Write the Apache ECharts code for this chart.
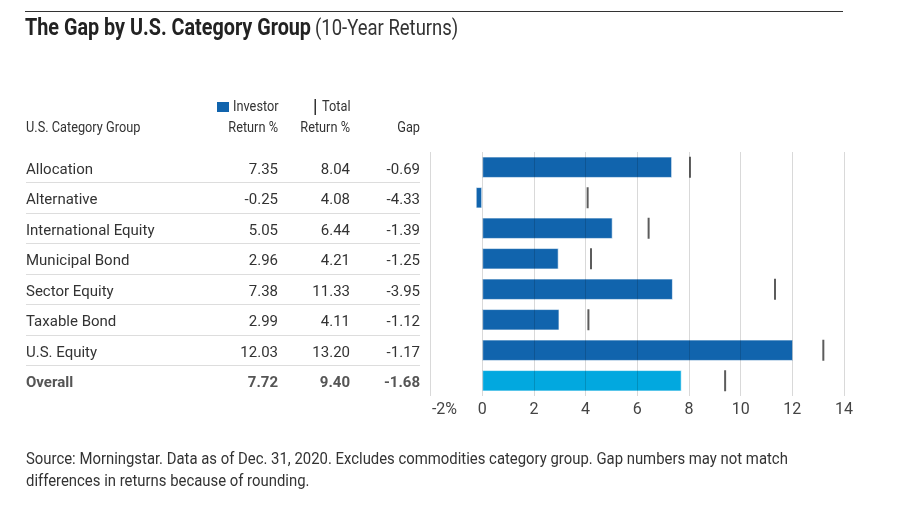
<!DOCTYPE html>
<html>
<head>
<meta charset="utf-8">
<script src="https://cdn.jsdelivr.net/npm/echarts@6/dist/echarts.min.js"></script>
<style>
  html, body { margin: 0; padding: 0; background: #fff; }
  #chart { width: 916px; height: 523px; }
</style>
</head>
<body>
<div id="chart"></div>
<script>
var FONT = '"Roboto", "Liberation Sans", sans-serif';

var categories = ['Allocation', 'Alternative', 'International Equity', 'Municipal Bond',
                  'Sector Equity', 'Taxable Bond', 'U.S. Equity', 'Overall'];
var investorReturn = [7.35, -0.25, 5.05, 2.96, 7.38, 2.99, 12.03, 7.72];
var totalReturn = [8.04, 4.08, 6.44, 4.21, 11.33, 4.11, 13.20, 9.40];
var gapValues = [-0.69, -4.33, -1.39, -1.25, -3.95, -1.12, -1.17, -1.68];
var xTicks = [-2, 0, 2, 4, 6, 8, 10, 12, 14];

var BLUE = '#1164ad';
var LIGHT_BLUE = '#02a8df';

var chart = echarts.init(document.getElementById('chart'));

// table row text, built as rich label of the category axis
function rowLabel(value, index) {
    var b = (value === 'Overall') ? 'B' : '';
    return '{name' + b + '|' + value + '}' +
        '{inv' + b + '|' + investorReturn[index].toFixed(2) + '}' +
        '{tot' + b + '|' + totalReturn[index].toFixed(2) + '}' +
        '{gap' + b + '|' + gapValues[index].toFixed(2) + '}';
}

function cell(width, align, bold) {
    return {
        width: width,
        align: align,
        padding: [5, 0, 0, 0],
        fontFamily: FONT,
        fontSize: 15,
        fontWeight: bold ? 'bold' : 'normal',
        color: bold ? '#555' : '#333'
    };
}

// condensed-looking text: plain text squeezed horizontally around its anchor
function squeezed(x, y, text, size, opts) {
    opts = opts || {};
    return {
        type: 'text',
        x: x,
        y: y,
        scaleX: opts.scale || 0.88,
        style: {
            text: text,
            font: (opts.weight || 'normal') + ' ' + size + 'px ' + FONT,
            fill: opts.color || '#333',
            textAlign: opts.align || 'left',
            textVerticalAlign: 'middle',
            lineHeight: opts.lineHeight
        }
    };
}

var option = {
    backgroundColor: '#fff',
    animation: false,
    textStyle: { fontFamily: FONT },
    grid: [
        { left: 430.5, right: 72, top: 152, height: 244 },
        // grid behind the table, only for the row rules
        { left: 26, width: 394, top: 152, height: 244 }
    ],
    xAxis: [{
        type: 'value',
        gridIndex: 0,
        min: -2,
        max: 14,
        interval: 2,
        z: 3,
        axisLine: { show: false },
        axisTick: { show: false },
        splitLine: { lineStyle: { color: 'rgba(0,0,0,0.15)', width: 1 } },
        axisLabel: {
            margin: 6,
            fontFamily: FONT,
            fontSize: 16,
            color: '#444',
            formatter: function (v) {
                return v === xTicks[0] ? '{first|' + v + '%}' : String(v);
            },
            rich: {
                first: { fontFamily: FONT, fontSize: 16, color: '#444', padding: [0, 0, 0, 28] }
            }
        }
    }, {
        type: 'value',
        gridIndex: 1,
        show: false
    }],
    yAxis: [{
        type: 'category',
        gridIndex: 0,
        data: categories,
        inverse: true,
        axisLine: { show: false },
        axisTick: { show: false },
        splitLine: { show: false },
        axisLabel: {
            margin: 10.5,
            formatter: rowLabel,
            rich: {
                name: cell(190, 'left', false),
                inv: cell(62, 'right', false),
                tot: cell(72, 'right', false),
                gap: cell(70, 'right', false),
                nameB: cell(190, 'left', true),
                invB: cell(62, 'right', true),
                totB: cell(72, 'right', true),
                gapB: cell(70, 'right', true)
            }
        }
    }, {
        type: 'value',
        gridIndex: 1,
        min: 0,
        max: categories.length,
        interval: 1,
        inverse: true,
        axisLine: { show: false },
        axisTick: { show: false },
        axisLabel: { show: false },
        splitLine: {
            show: true,
            showMinLine: false,
            showMaxLine: false,
            lineStyle: {
                color: ['#ddd', '#ddd', '#ddd', '#ddd', '#ddd', '#ddd', '#ddd', '#999', '#ddd'],
                width: 1
            }
        }
    }],
    series: [{
        name: 'Investor Return %',
        type: 'bar',
        xAxisIndex: 0,
        yAxisIndex: 0,
        barWidth: '70%',
        z: 2,
        data: investorReturn.map(function (v, i) {
            return {
                value: v,
                itemStyle: { color: categories[i] === 'Overall' ? LIGHT_BLUE : BLUE }
            };
        }),
        itemStyle: { borderColor: 'rgba(255,255,255,0.6)', borderWidth: 1 }
    }, {
        name: 'Total Return %',
        type: 'scatter',
        xAxisIndex: 0,
        yAxisIndex: 0,
        z: 4,
        symbol: 'rect',
        symbolSize: [2, 21],
        itemStyle: { color: '#333' },
        data: totalReturn.map(function (v, i) { return [v, i]; })
    }],
    graphic: [
        { type: 'line', shape: { x1: 25, y1: 11.5, x2: 843, y2: 11.5 },
          style: { stroke: '#333', lineWidth: 1 } },
        squeezed(25, 29, 'The Gap by U.S. Category Group', 23, { weight: 'bold', color: '#222', scale: 0.86 }),
        squeezed(315, 29, '(10-Year Returns)', 22, { color: '#333', scale: 0.84 }),

        // column headers
        squeezed(26, 128, 'U.S. Category Group', 14.5),
        { type: 'rect', shape: { x: 217, y: 102, width: 12, height: 10 },
          style: { fill: BLUE } },
        squeezed(233, 107, 'Investor', 14.5),
        squeezed(278, 128, 'Return %', 14.5, { align: 'right' }),
        { type: 'rect', shape: { x: 314.5, y: 99, width: 1.5, height: 16 },
          style: { fill: '#333' } },
        squeezed(322, 107, 'Total', 14.5),
        squeezed(350, 128, 'Return %', 14.5, { align: 'right' }),
        squeezed(420, 128, 'Gap', 14.5, { align: 'right' }),

        // source note
        squeezed(26, 471,
            'Source: Morningstar. Data as of Dec. 31, 2020. Excludes commodities category group. Gap numbers may not match\ndifferences in returns because of rounding.',
            16, { scale: 0.93, lineHeight: 22 })
    ]
};

chart.setOption(option);
</script>
</body>
</html>
